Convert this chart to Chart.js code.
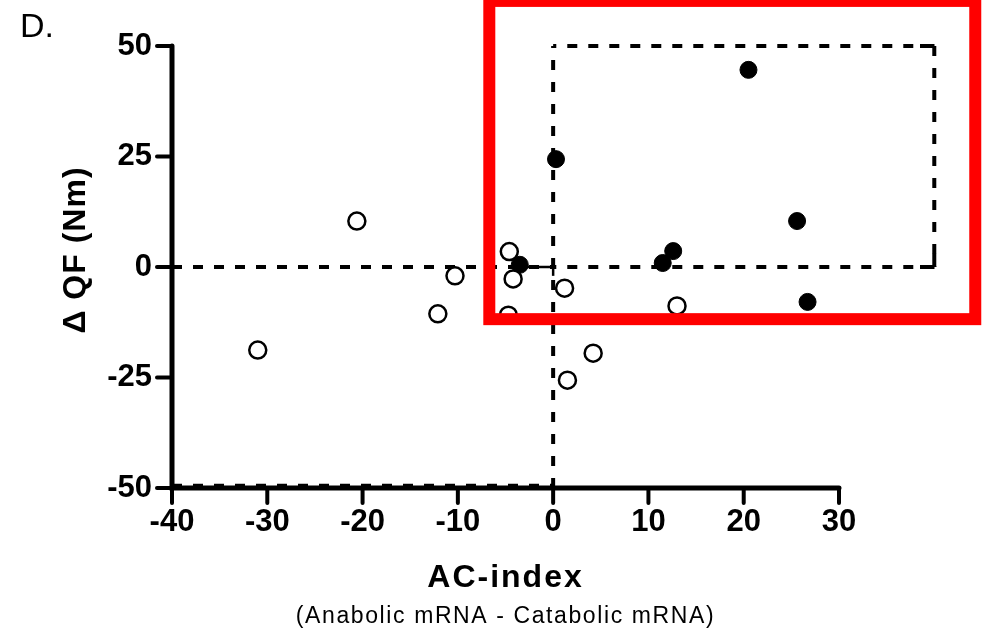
<!DOCTYPE html>
<html><head><meta charset="utf-8">
<script src="https://cdn.jsdelivr.net/npm/chart.js@4.4.0/dist/chart.umd.min.js"></script>
<style>html,body{margin:0;padding:0;background:#fff;}#wrap{width:986px;height:631px;position:relative;}</style>
</head><body><div id="wrap"><canvas id="c" width="986" height="631"></canvas></div>
<script>
const panelLabel = 'D.';
const xTitle = 'AC-index';
const xSubtitle = '(Anabolic mRNA - Catabolic mRNA)';
const yTitle = 'Δ QF (Nm)';
const xTicks = [-40, -30, -20, -10, 0, 10, 20, 30];
const yTicks = [-50, -25, 0, 25, 50];
const openX = [-20.6, -31.0, -10.3, -12.1, -4.6, -4.2, -4.7, 1.2, 4.2, 1.5, 13.0];
const openY = [10.4, -18.8, -2.0, -10.6, 3.5, -2.7, -10.9, -4.8, -19.5, -25.6, -8.8];
const filledX = [20.5, 0.3, 25.6, 11.5, 12.6, 26.7, -3.5];
const filledY = [44.6, 24.4, 10.4, 0.9, 3.6, -7.9, 0.5];
const upperBox = [0, 40, 0, 50];      // xMin, xMax, yMin, yMax
const lowerBox = [-40, 0, -50, 0];
const highlightBox = [-6.7, 44.3, -11.8, 60.2];
const linkSegment = [-3.5, 0, 0];     // x0, x1, y

const FONT = '"Liberation Sans", Arial, sans-serif';

function pts(xs, ys) { return xs.map((x, i) => ({ x: x, y: ys[i] })); }

const decor = {
  id: 'decor',
  beforeDatasetsDraw(chart) {
    const ctx = chart.ctx, X = chart.scales.x, Y = chart.scales.y;
    const px = v => X.getPixelForValue(v), py = v => Y.getPixelForValue(v);
    function seg(x0, y0, x1, y1, w, dash) {
      ctx.save();
      ctx.strokeStyle = '#000';
      ctx.lineWidth = w;
      ctx.setLineDash(dash || []);
      ctx.beginPath();
      ctx.moveTo(px(x0), py(y0));
      ctx.lineTo(px(x1), py(y1));
      ctx.stroke();
      ctx.restore();
    }
    const D = [10, 11];
    const W = 4;
    // lower-left quadrant dashed box
    seg(lowerBox[0], lowerBox[3], lowerBox[1], lowerBox[3], W, D);
    seg(lowerBox[0], lowerBox[2] + 0.6, lowerBox[1], lowerBox[2] + 0.6, 3, D);
    // vertical dashed at x=0
    seg(0, -50, 0, 50, W, [10, 12]);
    // upper-right dashed box
    seg(upperBox[1], upperBox[3], upperBox[0], upperBox[3], W, D);
    seg(upperBox[1], upperBox[2], upperBox[0], upperBox[2], W, D);
    seg(upperBox[1], upperBox[3], upperBox[1], upperBox[2], W, [10, 12]);
    // solid corners
    seg(upperBox[1] - 1.5, upperBox[3], upperBox[1], upperBox[3], W);
    seg(upperBox[1] - 1.5, upperBox[2], upperBox[1], upperBox[2], W);
    seg(upperBox[1], upperBox[2], upperBox[1], upperBox[2] + 3, W);
    // link segment
    seg(linkSegment[0], linkSegment[2], linkSegment[1], linkSegment[2], 2.5);
    seg(linkSegment[1], linkSegment[2] - 2, linkSegment[1], linkSegment[2] + 2, 2.5);

    // axes
    ctx.save();
    ctx.strokeStyle = '#000';
    ctx.lineCap = 'round';
    ctx.lineWidth = 5;
    ctx.beginPath();
    ctx.moveTo(px(-40), py(50));
    ctx.lineTo(px(-40), py(-50));
    ctx.lineTo(px(30), py(-50));
    ctx.stroke();
    ctx.lineWidth = 4;
    yTicks.forEach(v => {
      ctx.beginPath();
      ctx.moveTo(px(-40) - 15, py(v));
      ctx.lineTo(px(-40), py(v));
      ctx.stroke();
    });
    xTicks.forEach(v => {
      ctx.beginPath();
      ctx.moveTo(px(v), py(-50));
      ctx.lineTo(px(v), py(-50) + 15);
      ctx.stroke();
    });
    ctx.restore();
  },
  afterDraw(chart) {
    const ctx = chart.ctx, X = chart.scales.x, Y = chart.scales.y;
    const px = v => X.getPixelForValue(v), py = v => Y.getPixelForValue(v);
    ctx.save();
    ctx.fillStyle = '#000';
    ctx.font = '34px ' + FONT;
    ctx.textAlign = 'left';
    ctx.textBaseline = 'alphabetic';
    ctx.fillText(panelLabel, 20, 37);

    ctx.font = 'bold 32px ' + FONT;
    ctx.textAlign = 'center';
    ctx.letterSpacing = '2px';
    ctx.fillText(xTitle, (px(-40) + px(30)) / 2, 587);
    ctx.font = '23px ' + FONT;
    ctx.letterSpacing = '1.6px';
    ctx.fillText(xSubtitle, (px(-40) + px(30)) / 2, 623);

    ctx.translate(85, 250);
    ctx.rotate(-Math.PI / 2);
    ctx.font = 'bold 32px ' + FONT;
    ctx.letterSpacing = '1px';
    ctx.textAlign = 'center';
    ctx.fillText(yTitle, 0, 0);
    ctx.restore();

    // highlight box
    ctx.save();
    ctx.strokeStyle = '#ff0000';
    ctx.lineWidth = 12;
    ctx.strokeRect(px(highlightBox[0]), py(highlightBox[3]),
      px(highlightBox[1]) - px(highlightBox[0]), py(highlightBox[2]) - py(highlightBox[3]));
    ctx.restore();
  }
};

const tickFont = { family: FONT, size: 31, weight: 'bold' };

new Chart(document.getElementById('c'), {
  type: 'scatter',
  data: {
    datasets: [
      { label: 'open', data: pts(openX, openY), pointRadius: 8.5, pointHoverRadius: 8.5,
        pointBackgroundColor: '#fff', pointBorderColor: '#000', pointBorderWidth: 2.5 },
      { label: 'filled', data: pts(filledX, filledY), pointRadius: 8.5, pointHoverRadius: 8.5,
        pointBackgroundColor: '#000', pointBorderColor: '#000', pointBorderWidth: 1 }
    ]
  },
  options: {
    responsive: false,
    devicePixelRatio: 1,
    animation: false,
    events: [],
    clip: false,
    layout: { padding: { top: 46, right: 147, left: 0, bottom: 0 } },
    plugins: { legend: { display: false }, tooltip: { enabled: false } },
    scales: {
      x: {
        type: 'linear', min: -40, max: 30,
        afterBuildTicks: s => { s.ticks = xTicks.map(v => ({ value: v })); },
        afterFit: s => { s.height = 143; },
        grid: { display: false, drawTicks: false },
        border: { display: false },
        ticks: { font: tickFont, color: '#000', padding: 16, maxRotation: 0, autoSkip: false }
      },
      y: {
        type: 'linear', min: -50, max: 50,
        afterBuildTicks: s => { s.ticks = yTicks.map(v => ({ value: v })); },
        afterFit: s => { s.width = 172; },
        grid: { display: false, drawTicks: false },
        border: { display: false },
        ticks: { font: tickFont, color: '#000', padding: 20, autoSkip: false }
      }
    }
  },
  plugins: [decor]
});
</script></body></html>
